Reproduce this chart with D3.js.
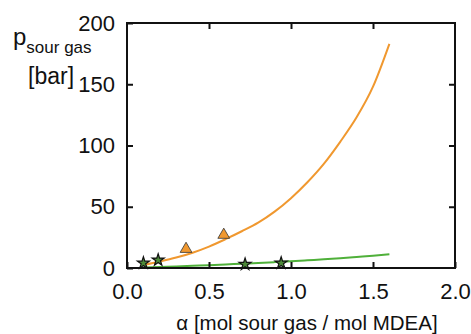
<!DOCTYPE html>
<html>
<head>
<meta charset="utf-8">
<script src="https://cdn.jsdelivr.net/npm/d3@7"></script>
<style>
  body { margin: 0; background: #fff; }
  text { font-family: "Liberation Sans", Arial, sans-serif; fill: #111; }
</style>
</head>
<body>
<svg id="chart" width="471" height="334"></svg>
<script>
// values
var xTicks = [0.0, 0.5, 1.0, 1.5, 2.0];
var yTicks = [0, 50, 100, 150, 200];

var modelAlpha = [0.1, 0.2, 0.3, 0.4, 0.5, 0.6, 0.7, 0.8, 0.9, 1.0, 1.1, 1.2, 1.3, 1.4, 1.5, 1.6];
var modelH2S   = [2.5, 5.3, 8.5, 12.5, 17.5, 23.5, 30, 37, 46, 57, 70, 85, 103, 123, 148, 183];
var modelCO2   = [0.5, 0.9, 1.3, 1.8, 2.3, 2.9, 3.5, 4.1, 4.8, 5.5, 6.3, 7.1, 8, 9, 10, 11.2];

var triAlpha  = [0.36, 0.59];
var triP      = [15.5, 27];
var starAlpha = [0.10, 0.19, 0.72, 0.94];
var starP     = [4, 6.5, 3, 4];

var svg = d3.select("#chart");
var margin = { top: 23, right: 16, bottom: 66, left: 127 };
var width = +svg.attr("width") - margin.left - margin.right;
var height = +svg.attr("height") - margin.top - margin.bottom;

var x = d3.scaleLinear().domain([0, 2]).range([0, width]);
var y = d3.scaleLinear().domain([0, 200]).range([height, 0]);

var g = svg.append("g").attr("transform", "translate(" + margin.left + "," + margin.top + ")");

// curves
var line = d3.line()
    .x(function (d) { return x(d[0]); })
    .y(function (d) { return y(d[1]); })
    .curve(d3.curveMonotoneX);

g.append("path")
    .datum(modelAlpha.map(function (a, i) { return [a, modelH2S[i]]; }))
    .attr("fill", "none").attr("stroke", "#f0982f").attr("stroke-width", 2)
    .attr("d", line);

g.append("path")
    .datum(modelAlpha.map(function (a, i) { return [a, modelCO2[i]]; }))
    .attr("fill", "none").attr("stroke", "#4fb03a").attr("stroke-width", 2)
    .attr("d", line);

// markers
var tri = d3.symbol().type(d3.symbolTriangle).size(60);
g.selectAll(".tri")
    .data(triAlpha.map(function (a, i) { return [a, triP[i]]; }))
    .enter().append("path")
    .attr("class", "tri")
    .attr("transform", function (d) { return "translate(" + x(d[0]) + "," + y(d[1]) + ")"; })
    .attr("d", tri)
    .attr("fill", "#f0982f").attr("stroke", "#333").attr("stroke-width", 0.8);

var star = d3.symbol().type(d3.symbolStar).size(45);
g.selectAll(".star")
    .data(starAlpha.map(function (a, i) { return [a, starP[i]]; }))
    .enter().append("path")
    .attr("class", "star")
    .attr("transform", function (d) { return "translate(" + x(d[0]) + "," + y(d[1]) + ")"; })
    .attr("d", star)
    .attr("fill", "#4c8a38").attr("stroke", "#111").attr("stroke-width", 1.2);

// axes, ticks pointing inwards
function styleAxis(size) {
    return function (sel) {
        sel.select(".domain").remove();
        sel.selectAll(".tick line").attr("stroke", "#111").attr("stroke-width", 2);
        sel.selectAll(".tick text").style("font-size", size).attr("fill", "#111");
    };
}

g.append("g")
    .attr("transform", "translate(0," + height + ")")
    .call(d3.axisBottom(x).tickValues(xTicks).tickFormat(d3.format(".1f")).tickSize(-6).tickPadding(15))
    .call(styleAxis("22px"));

g.append("g")
    .call(d3.axisLeft(y).tickValues(yTicks).tickSize(-6).tickPadding(12))
    .call(styleAxis("22px"));

g.append("g")
    .call(d3.axisTop(x).tickValues(xTicks.slice(1, -1)).tickFormat("").tickSize(-6))
    .call(styleAxis("0px"));

g.append("g")
    .attr("transform", "translate(" + width + ",0)")
    .call(d3.axisRight(y).tickValues(yTicks.slice(1, -1)).tickFormat("").tickSize(-6))
    .call(styleAxis("0px"));

g.append("rect")
    .attr("width", width).attr("height", height)
    .attr("fill", "none").attr("stroke", "#111").attr("stroke-width", 2);

// axis titles
svg.append("text")
    .attr("x", margin.left + width / 2 + 16).attr("y", 330)
    .attr("text-anchor", "middle")
    .style("font-size", "20.5px")
    .text("α [mol sour gas / mol MDEA]");

var yt = svg.append("text").attr("x", 13).attr("y", 45).style("font-size", "24px");
yt.append("tspan").text("p");
yt.append("tspan").attr("dy", 8).style("font-size", "17px").text("sour gas");

svg.append("text")
    .attr("x", 28).attr("y", 84)
    .style("font-size", "23px")
    .text("[bar]");
</script>
</body>
</html>
